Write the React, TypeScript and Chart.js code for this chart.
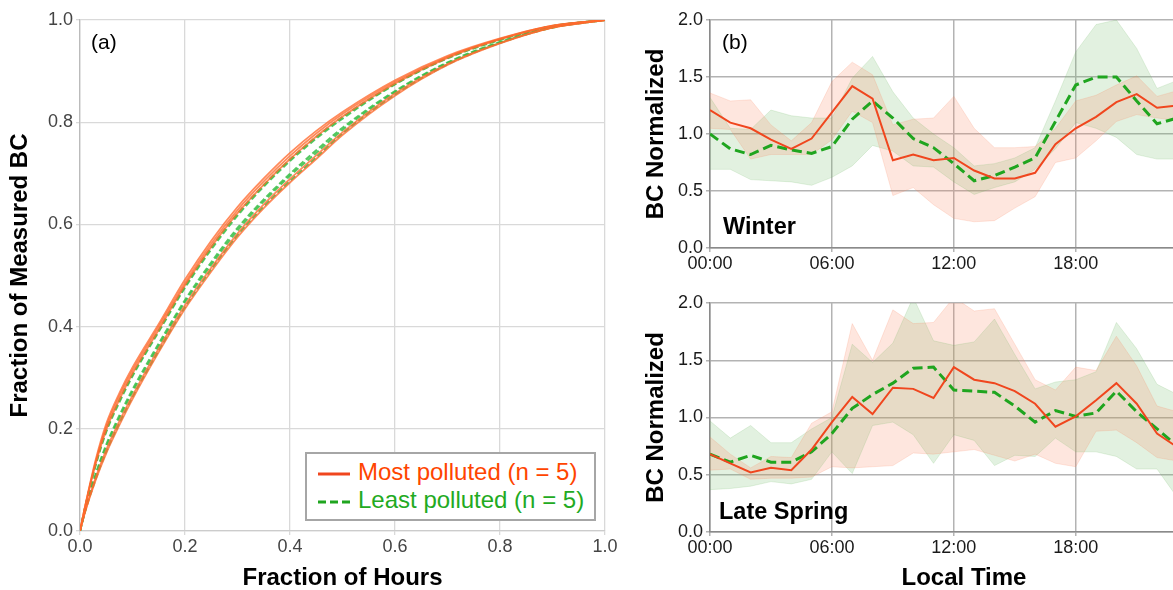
import React, { useEffect, useRef } from "react";
import { Chart, registerables } from "chart.js";

Chart.register(...registerables);

const FONT = '"Liberation Sans", Arial, Helvetica, sans-serif';
Chart.defaults.font.family = FONT;

// ---------- Panel (a): cumulative fraction curves ----------
const fractionOfHours = [0, 0.01, 0.03, 0.05, 0.075, 0.1, 0.15, 0.2, 0.25, 0.3, 0.35, 0.4, 0.45, 0.5, 0.6, 0.7, 0.8, 0.9, 1.0];
const mostPolluted1 = [0, 0.05, 0.14, 0.21, 0.27, 0.32, 0.405, 0.492, 0.568, 0.634, 0.69, 0.74, 0.783, 0.82, 0.882, 0.93, 0.964, 0.989, 1];
const mostPolluted2 = [0, 0.049, 0.136, 0.204, 0.264, 0.314, 0.4, 0.486, 0.562, 0.628, 0.684, 0.734, 0.778, 0.816, 0.879, 0.928, 0.963, 0.989, 1];
const mostPolluted3 = [0, 0.048, 0.132, 0.198, 0.257, 0.308, 0.394, 0.481, 0.556, 0.622, 0.678, 0.728, 0.772, 0.811, 0.876, 0.926, 0.962, 0.988, 1];
const mostPolluted4 = [0, 0.039, 0.105, 0.159, 0.215, 0.265, 0.357, 0.442, 0.515, 0.582, 0.639, 0.689, 0.735, 0.78, 0.856, 0.914, 0.955, 0.985, 1];
const mostPolluted5 = [0, 0.038, 0.1, 0.152, 0.207, 0.258, 0.35, 0.435, 0.508, 0.575, 0.632, 0.682, 0.728, 0.775, 0.852, 0.912, 0.954, 0.985, 1];
const leastPolluted1 = [0, 0.047, 0.131, 0.197, 0.256, 0.306, 0.393, 0.479, 0.555, 0.621, 0.677, 0.727, 0.771, 0.81, 0.875, 0.926, 0.962, 0.988, 1];
const leastPolluted2 = [0, 0.047, 0.129, 0.194, 0.252, 0.303, 0.39, 0.476, 0.551, 0.617, 0.674, 0.724, 0.768, 0.807, 0.874, 0.925, 0.961, 0.988, 1];
const leastPolluted3 = [0, 0.042, 0.112, 0.169, 0.226, 0.277, 0.367, 0.452, 0.526, 0.593, 0.649, 0.699, 0.745, 0.789, 0.861, 0.917, 0.957, 0.986, 1];
const leastPolluted4 = [0, 0.041, 0.109, 0.165, 0.221, 0.272, 0.362, 0.448, 0.521, 0.588, 0.645, 0.695, 0.74, 0.785, 0.859, 0.916, 0.956, 0.986, 1];
const leastPolluted5 = [0, 0.039, 0.102, 0.155, 0.211, 0.262, 0.353, 0.438, 0.512, 0.579, 0.635, 0.685, 0.731, 0.778, 0.854, 0.913, 0.955, 0.985, 1];

// ---------- Panel (b): diurnal cycles ----------
const hours = [0, 1, 2, 3, 4, 5, 6, 7, 8, 9, 10, 11, 12, 13, 14, 15, 16, 17, 18, 19, 20, 21, 22, 23];

const winterMost = [1.21, 1.1, 1.05, 0.95, 0.87, 0.96, 1.19, 1.42, 1.31, 0.77, 0.82, 0.77, 0.79, 0.68, 0.61, 0.61, 0.66, 0.91, 1.05, 1.15, 1.28, 1.35, 1.23, 1.25];
const winterMostHigh = [1.36, 1.29, 1.3, 1.08, 0.94, 1.1, 1.46, 1.63, 1.52, 1.08, 1.13, 1.14, 1.33, 1.05, 0.88, 0.88, 0.89, 1.05, 1.29, 1.34, 1.43, 1.51, 1.33, 1.38];
const winterMostLow = [1.05, 1.04, 0.78, 0.82, 0.82, 0.82, 0.95, 1.2, 1.1, 0.46, 0.53, 0.38, 0.26, 0.23, 0.24, 0.35, 0.45, 0.75, 0.79, 0.94, 1.11, 1.17, 1.14, 1.12];
const winterLeast = [1.0, 0.87, 0.82, 0.9, 0.86, 0.83, 0.89, 1.13, 1.29, 1.14, 0.96, 0.88, 0.74, 0.59, 0.635, 0.71, 0.79, 1.11, 1.43, 1.5, 1.5, 1.29, 1.09, 1.14];
const winterLeastHigh = [1.32, 1.05, 1.04, 1.21, 1.16, 1.14, 1.14, 1.49, 1.68, 1.37, 1.14, 1.0, 0.88, 0.72, 0.74, 0.79, 0.88, 1.29, 1.72, 1.96, 2.0, 1.75, 1.4, 1.47];
const winterLeastLow = [0.69, 0.69, 0.6, 0.59, 0.58, 0.55, 0.62, 0.72, 0.9, 0.85, 0.72, 0.71, 0.58, 0.47, 0.53, 0.58, 0.69, 0.87, 1.1, 1.05, 0.97, 0.82, 0.78, 0.78];

const springMost = [0.68, 0.6, 0.52, 0.56, 0.54, 0.72, 0.96, 1.18, 1.03, 1.26, 1.25, 1.17, 1.44, 1.33, 1.3, 1.23, 1.12, 0.92, 1.01, 1.15, 1.3, 1.12, 0.86, 0.74];
const springMostHigh = [0.83, 0.68, 0.56, 0.66, 0.65, 0.95, 1.05, 1.82, 1.5, 1.94, 1.82, 1.83, 2.05, 1.93, 1.95, 1.64, 1.33, 1.24, 1.44, 1.41, 1.71, 1.45, 1.1, 1.05];
const springMostLow = [0.54, 0.55, 0.46, 0.47, 0.47, 0.48, 0.57, 0.56, 0.57, 0.58, 0.69, 0.68, 0.7, 0.72, 0.67, 0.62, 0.68, 0.6, 0.57, 0.88, 0.89, 0.78, 0.65, 0.62];
const springLeast = [0.68, 0.61, 0.67, 0.61, 0.61, 0.7, 0.86, 1.08, 1.2, 1.3, 1.43, 1.44, 1.24, 1.23, 1.22, 1.1, 0.96, 1.06, 1.01, 1.04, 1.23, 1.05, 0.9, 0.75];
const springLeastHigh = [0.97, 0.82, 0.93, 0.78, 0.78, 0.9, 1.0, 1.64, 1.48, 1.65, 2.05, 1.67, 1.63, 1.66, 1.86, 1.55, 1.25, 1.31, 1.33, 1.4, 1.83, 1.6, 1.29, 1.2];
const springLeastLow = [0.37, 0.38, 0.4, 0.44, 0.42, 0.46, 0.7, 0.51, 0.93, 0.96, 0.85, 0.6, 0.85, 0.8, 0.58, 0.67, 0.66, 0.82, 0.7, 0.7, 0.66, 0.55, 0.55, 0.3];

const LEGEND_MOST = "Most polluted (n = 5)";
const LEGEND_LEAST = "Least polluted (n = 5)";

const ORANGE = "#f0461e";
const GREEN = "#1fa51f";
const TITLE_SIZE = 24;

const curvePoints = (ys: number[]) => ys.map((y, i) => ({ x: fractionOfHours[i], y }));
const hourPoints = (ys: number[]) => ys.map((y, i) => ({ x: hours[i], y }));

function buildPanelA(canvas: HTMLCanvasElement) {
  const most = [mostPolluted1, mostPolluted2, mostPolluted3, mostPolluted4, mostPolluted5].map((ys) => ({
    label: LEGEND_MOST,
    data: curvePoints(ys),
    borderColor: "rgba(255,105,45,0.78)",
    borderWidth: 1.8,
    pointRadius: 0,
    cubicInterpolationMode: "monotone" as const,
    fill: false,
  }));
  const least = [leastPolluted1, leastPolluted2, leastPolluted3, leastPolluted4, leastPolluted5].map((ys) => ({
    label: LEGEND_LEAST,
    data: curvePoints(ys),
    borderColor: "rgba(55,190,70,0.85)",
    borderWidth: 2,
    borderDash: [6, 3],
    pointRadius: 0,
    cubicInterpolationMode: "monotone" as const,
    fill: false,
  }));
  return new Chart(canvas, {
    type: "line",
    data: { datasets: [...most, ...least] },
    options: {
      animation: false,
      responsive: false,
      events: [],
      layout: { padding: { left: 0, right: 15, top: 20, bottom: 0 } },
      plugins: { legend: { display: false }, tooltip: { enabled: false } },
      scales: {
        x: {
          type: "linear",
          min: 0,
          max: 1,
          ticks: {
            stepSize: 0.2,
            maxRotation: 0,
            color: "#444",
            padding: 1,
            font: { size: 18, family: FONT },
            callback: (v: any) => Number(v).toFixed(1),
          },
          grid: { color: "#d9d9d9", lineWidth: 1.3, tickLength: 4 },
          border: { color: "#cccccc", width: 1.3 },
          title: {
            display: true,
            text: "Fraction of Hours",
            color: "#000",
            padding: 0,
            font: { size: TITLE_SIZE, weight: "bold", family: FONT, lineHeight: 1 },
          },
          afterFit: (s: any) => {
            s.height = 59;
          },
        },
        y: {
          type: "linear",
          min: 0,
          max: 1,
          ticks: {
            stepSize: 0.2,
            color: "#444",
            padding: 3,
            font: { size: 18, family: FONT },
            callback: (v: any) => Number(v).toFixed(1),
          },
          grid: { color: "#d9d9d9", lineWidth: 1.3, tickLength: 4 },
          border: { color: "#bbbbbb", width: 1.3 },
          title: {
            display: true,
            text: "Fraction of Measured BC",
            color: "#000",
            padding: { top: 8, bottom: 0 },
            font: { size: TITLE_SIZE, weight: "bold", family: FONT, lineHeight: 1 },
          },
          afterFit: (s: any) => {
            s.width = 80;
          },
        },
      },
    },
  } as any);
}

function buildDiurnal(
  canvas: HTMLCanvasElement,
  most: number[],
  mostLow: number[],
  mostHigh: number[],
  least: number[],
  leastLow: number[],
  leastHigh: number[],
  showXTitle: boolean,
  padTop: number,
  xHeight: number
) {
  const bandBase = { pointRadius: 0, borderWidth: 1, tension: 0 };
  return new Chart(canvas, {
    type: "line",
    data: {
      datasets: [
        { label: LEGEND_MOST, data: hourPoints(most), borderColor: ORANGE, borderWidth: 2, pointRadius: 0, fill: false },
        { label: LEGEND_LEAST, data: hourPoints(least), borderColor: GREEN, borderWidth: 3, borderDash: [10, 5], pointRadius: 0, fill: false },
        { ...bandBase, label: "most low", data: hourPoints(mostLow), borderColor: "rgba(250,128,90,0.18)", fill: false },
        { ...bandBase, label: "most high", data: hourPoints(mostHigh), borderColor: "rgba(250,128,90,0.18)", backgroundColor: "rgba(250,128,90,0.2)", fill: "-1" },
        { ...bandBase, label: "least low", data: hourPoints(leastLow), borderColor: "rgba(110,185,100,0.18)", fill: false },
        { ...bandBase, label: "least high", data: hourPoints(leastHigh), borderColor: "rgba(110,185,100,0.18)", backgroundColor: "rgba(110,185,100,0.2)", fill: "-1" },
      ],
    },
    options: {
      animation: false,
      responsive: false,
      events: [],
      layout: { padding: { left: 0, right: 22, top: padTop, bottom: 0 } },
      plugins: {
        legend: { display: false },
        tooltip: { enabled: false },
        filler: { drawTime: "beforeDatasetsDraw" },
      },
      scales: {
        x: {
          type: "linear",
          min: 0,
          max: 25,
          ticks: {
            stepSize: 6,
            includeBounds: false,
            autoSkip: false,
            maxRotation: 0,
            color: "#1a1a1a",
            padding: 1,
            font: { size: 18, family: FONT },
            callback: (v: any) => `${String(v).padStart(2, "0")}:00`,
          },
          grid: { color: "#b3b3b3", lineWidth: 1.5, tickLength: 4 },
          border: { color: "#8a8a8a", width: 1.5 },
          title: {
            display: showXTitle,
            text: "Local Time",
            color: "#000",
            padding: 0,
            font: { size: TITLE_SIZE, weight: "bold", family: FONT, lineHeight: 1 },
          },
          afterFit: (s: any) => {
            s.height = xHeight;
          },
        },
        y: {
          type: "linear",
          min: 0,
          max: 2,
          ticks: {
            stepSize: 0.5,
            color: "#1a1a1a",
            padding: 3,
            font: { size: 18, family: FONT },
            callback: (v: any) => Number(v).toFixed(1),
          },
          grid: { color: "#b3b3b3", lineWidth: 1.5, tickLength: 4 },
          border: { color: "#8a8a8a", width: 1.5 },
          title: {
            display: true,
            text: "BC Normalized",
            color: "#000",
            padding: { top: 24, bottom: 0 },
            font: { size: TITLE_SIZE, weight: "bold", family: FONT, lineHeight: 1 },
          },
          afterFit: (s: any) => {
            s.width = 90;
          },
        },
      },
    },
  } as any);
}

const abs = (o: React.CSSProperties): React.CSSProperties => ({ position: "absolute", margin: 0, whiteSpace: "nowrap", ...o });

export default function App() {
  const aRef = useRef<HTMLCanvasElement>(null);
  const bRef = useRef<HTMLCanvasElement>(null);
  const cRef = useRef<HTMLCanvasElement>(null);

  useEffect(() => {
    const charts: Chart[] = [];
    if (aRef.current) charts.push(buildPanelA(aRef.current));
    if (bRef.current)
      charts.push(buildDiurnal(bRef.current, winterMost, winterMostLow, winterMostHigh, winterLeast, winterLeastLow, winterLeastHigh, false, 20, 32));
    if (cRef.current)
      charts.push(buildDiurnal(cRef.current, springMost, springMostLow, springMostHigh, springLeast, springLeastLow, springLeastHigh, true, 23, 58));
    return () => charts.forEach((c) => c.destroy());
  }, []);

  return (
    <div
      style={{
        position: "fixed",
        left: 0,
        top: 0,
        width: 1173,
        height: 590,
        overflow: "hidden",
        background: "#fff",
        fontFamily: FONT,
        color: "#000",
      }}
    >
      <canvas ref={aRef} width={620} height={590} style={{ position: "absolute", left: 0, top: 0 }} />
      <canvas ref={bRef} width={620} height={280} style={{ position: "absolute", left: 620, top: 0 }} />
      <canvas ref={cRef} width={620} height={310} style={{ position: "absolute", left: 620, top: 280 }} />

      <div style={abs({ left: 91, top: 31, fontSize: 21, lineHeight: 1 })}>(a)</div>
      <div style={abs({ left: 722, top: 31, fontSize: 21, lineHeight: 1 })}>(b)</div>
      <div style={abs({ left: 723, top: 215, fontSize: 23.5, lineHeight: 1, fontWeight: "bold" })}>Winter</div>
      <div style={abs({ left: 719, top: 500, fontSize: 23.5, lineHeight: 1, fontWeight: "bold" })}>Late Spring</div>

      <div
        style={abs({
          left: 305,
          top: 452,
          width: 291,
          height: 69,
          boxSizing: "border-box",
          border: "2px solid #a6a6a6",
          background: "#fff",
        })}
      >
        <svg width={34} height={60} style={{ position: "absolute", left: 11, top: 4 }}>
          <line x1={0} y1={16} x2={32} y2={16} stroke={ORANGE} strokeWidth={3} />
          <line x1={0} y1={44} x2={32} y2={44} stroke={GREEN} strokeWidth={3} strokeDasharray="8 4" />
        </svg>
        <div style={abs({ left: 51, top: 6, fontSize: 24, lineHeight: 1, color: "#ff4500" })}>{LEGEND_MOST}</div>
        <div style={abs({ left: 51, top: 34, fontSize: 24, lineHeight: 1, color: "#22aa22" })}>{LEGEND_LEAST}</div>
      </div>
    </div>
  );
}
